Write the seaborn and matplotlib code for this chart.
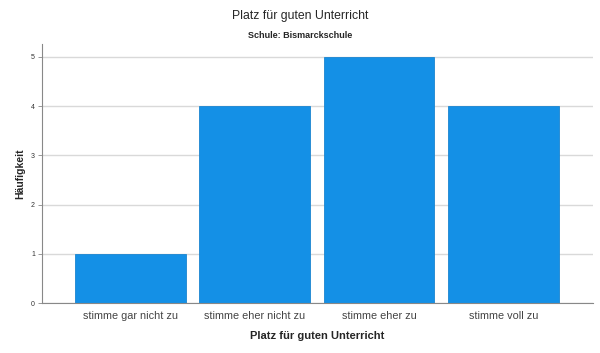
import matplotlib
matplotlib.use("Agg")
import matplotlib.pyplot as plt
import seaborn as sns
import pandas as pd

categories = ["stimme gar nicht zu", "stimme eher nicht zu", "stimme eher zu", "stimme voll zu"]
counts = [1, 4, 5, 4]
yticks = [0, 1, 2, 3, 4, 5]

sns.set_style("white")
plt.rcParams['font.family'] = ['Liberation Sans', 'DejaVu Sans']

df = pd.DataFrame({"cat": categories, "n": counts})
fig = plt.figure(figsize=(6, 3.53), dpi=100)
ax = fig.add_axes([0.07, 0.1416, 0.918, 0.7334])
ax.set_axisbelow(True)
for t in yticks:
    ax.axhline(t, color="#d9d9d9", lw=1, zorder=0)
sns.barplot(data=df, x="cat", y="n", color="#1490e6", saturation=1, width=0.89,
            edgecolor="#1a85d0", linewidth=0.6, ax=ax, zorder=2)
ax.set_xlim(-0.712, 3.72)
ax.set_ylim(0, 5.26)
ax.set_yticks(yticks)
ax.set_yticklabels([str(t) for t in yticks], fontsize=5, color="#333333")
ax.tick_params(axis="y", length=3, width=0.6, color="#888888", pad=2, left=True)
ax.tick_params(axis="x", length=0, pad=6, labelsize=7.8, labelcolor="#444444")
for s in ["top", "right"]:
    ax.spines[s].set_visible(False)
for s in ["left", "bottom"]:
    ax.spines[s].set_color("#888888")
    ax.spines[s].set_linewidth(0.8)
ax.set_xlabel("Platz für guten Unterricht", fontsize=8, fontweight="bold", labelpad=7)
ax.set_ylabel("Häufigkeit", fontsize=7.5, fontweight="bold", labelpad=4.5)
fig.text(0.5, 1 - 15.5/353, "Platz für guten Unterricht", ha="center", va="center", fontsize=8.8)
fig.text(0.5, 1 - 35.5/353, "Schule: Bismarckschule", ha="center", va="center", fontsize=6.5, fontweight="bold")
fig.savefig("out.png", dpi=100)
